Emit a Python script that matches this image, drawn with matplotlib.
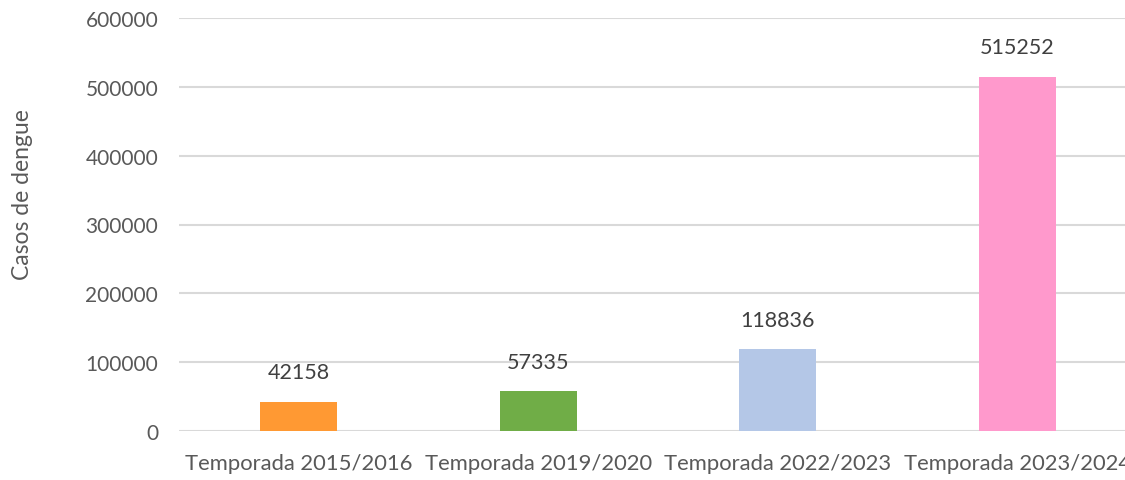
import matplotlib.pyplot as plt
import numpy as np

# Data
seasons = ['Temporada 2015/2016', 'Temporada 2019/2020', 'Temporada 2022/2023', 'Temporada 2023/2024']
cases = [42158, 57335, 118836, 515252]
colors = ['#FF9933', '#70AD47', '#B4C7E7', '#FF99CC']
yticks = [0, 100000, 200000, 300000, 400000, 500000, 600000]

plt.rcParams['font.family'] = ['Lato', 'DejaVu Sans']

W, H = 1125, 481
fig = plt.figure(figsize=(W / 100, H / 100), dpi=100)
left, right = 179 / W, 1137 / W
bottom, top = 1 - 431.7 / H, 1 - 19.3 / H
ax = fig.add_axes([left, bottom, right - left, top - bottom])

x = np.arange(len(seasons))
bars = ax.bar(x, cases, width=0.32, color=colors, zorder=3)

ax.set_xlim(-0.5, len(seasons) - 0.5)
ax.set_ylim(0, 600000)
ax.set_yticks(yticks)
ax.set_yticklabels([str(v) for v in yticks])
ax.set_xticks(x)
ax.set_xticklabels(seasons)

ax.grid(axis='y', color='#D9D9D9', linewidth=1.5, zorder=0)
for s in ax.spines.values():
    s.set_visible(False)
ax.tick_params(axis='both', length=0, colors='#595959')
ax.tick_params(axis='y', pad=15, labelsize=15)
ax.tick_params(axis='x', pad=16, labelsize=15.8)

for b, v in zip(bars, cases):
    ax.annotate(str(v), (b.get_x() + b.get_width() / 2, v), xytext=(0, 14),
                textcoords='offset points', ha='center', va='bottom',
                fontsize=15.5, color='#404040')

fig.text(23 / W, 1 - 195 / H, 'Casos de dengue', rotation=90, ha='center', va='center',
         fontsize=16.5, color='#595959')

fig.savefig('out.png', dpi=100)
